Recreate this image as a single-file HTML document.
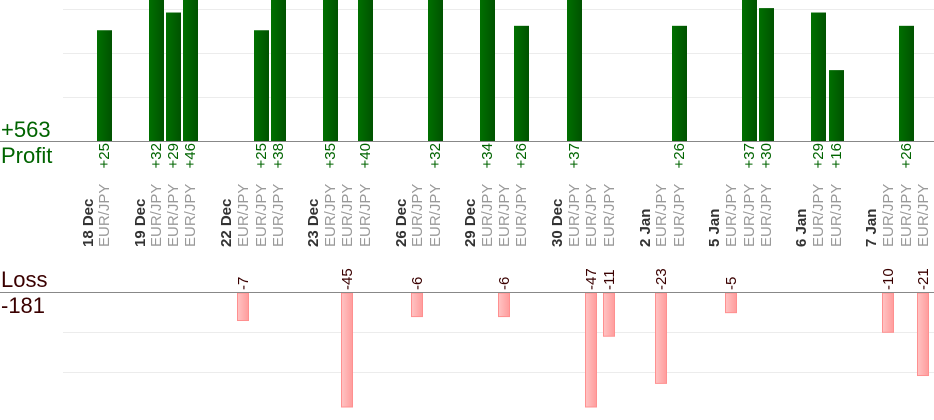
<!DOCTYPE html>
<html><head><meta charset="utf-8"><style>
html,body{margin:0;padding:0;background:#fff;width:934px;height:420px;overflow:hidden}
svg{display:block;font-family:"Liberation Sans",sans-serif}
</style></head><body>
<svg width="934" height="420" viewBox="0 0 934 420">
<defs>
<linearGradient id="g" x1="0" x2="1"><stop offset="0" stop-color="#007000"/><stop offset="1" stop-color="#005200"/></linearGradient>
<linearGradient id="r" x1="0" x2="1"><stop offset="0" stop-color="#ffc4c4"/><stop offset="1" stop-color="#ff9c9c"/></linearGradient>
</defs>
<g stroke="#ececec" stroke-width="1">
<line x1="63" y1="9.5" x2="934" y2="9.5"/><line x1="63" y1="53.5" x2="934" y2="53.5"/><line x1="63" y1="97.5" x2="934" y2="97.5"/>
<line x1="63" y1="332.5" x2="934" y2="332.5"/><line x1="63" y1="372.5" x2="934" y2="372.5"/>
</g>
<g id="bars"></g>
<line x1="0" y1="141.5" x2="934" y2="141.5" stroke="#888"/>
<line x1="0" y1="292.5" x2="934" y2="292.5" stroke="#888"/>
<text x="1" y="137" font-size="22" fill="#006400">+563</text>
<text x="1" y="163" font-size="22" fill="#006400">Profit</text>
<text x="1" y="287" font-size="22" fill="#3a0000">Loss</text>
<text x="1" y="313" font-size="22" fill="#3a0000">-181</text>
<g id="t"></g>
</svg>
<script>
var P=[[104,25],[156,32],[173,29],[190,46],[261,25],[278,38],[330,35],[365,40],[435,32],[487,34],[521,26],[574,37],[679,26],[749,37],[766,30],[818,29],[836,16],[906,26]];
var L=[[243,-7],[347,-45],[417,-6],[504,-6],[591,-47],[609,-11],[661,-23],[731,-5],[888,-10],[923,-21]];
var D=[[88,"18 Dec"],[140,"19 Dec"],[226,"22 Dec"],[313,"23 Dec"],[401,"26 Dec"],[470,"29 Dec"],[557,"30 Dec"],[645,"2 Jan"],[714,"5 Jan"],[801,"6 Jan"],[871,"7 Jan"]];
var E=[104,156,173,190,243,261,278,330,347,365,417,435,487,504,521,574,591,609,661,679,731,749,766,818,836,888,906,923];
var s="",t="";
P.forEach(function(p){var h=Math.min(p[1]*4.43,141);s+='<rect x="'+(p[0]-7)+'" y="'+(141-h)+'" width="15" height="'+h+'" fill="url(#g)"/>';
t+='<text transform="translate('+(p[0]+5)+',143) rotate(-90)" text-anchor="end" font-size="15" fill="#006400">+'+p[1]+'</text>';});
L.forEach(function(p){var h=Math.min(-p[1]*3.93,114);s+='<rect x="'+(p[0]-5.5)+'" y="293" width="11" height="'+h+'" fill="url(#r)" stroke="#ff9090" stroke-width="1"/>';
t+='<text transform="translate('+(p[0]+5)+',290) rotate(-90)" font-size="15" fill="#3a0000">'+p[1]+'</text>';});
D.forEach(function(d){t+='<text transform="translate('+(d[0]+5)+',247) rotate(-90)" font-size="15" font-weight="bold" fill="#333">'+d[1]+'</text>';});
E.forEach(function(x){t+='<text transform="translate('+(x+5)+',247) rotate(-90)" font-size="15" fill="#999">EUR/JPY</text>';});
document.getElementById("bars").innerHTML=s;document.getElementById("t").innerHTML=t;
</script>
</body></html>
